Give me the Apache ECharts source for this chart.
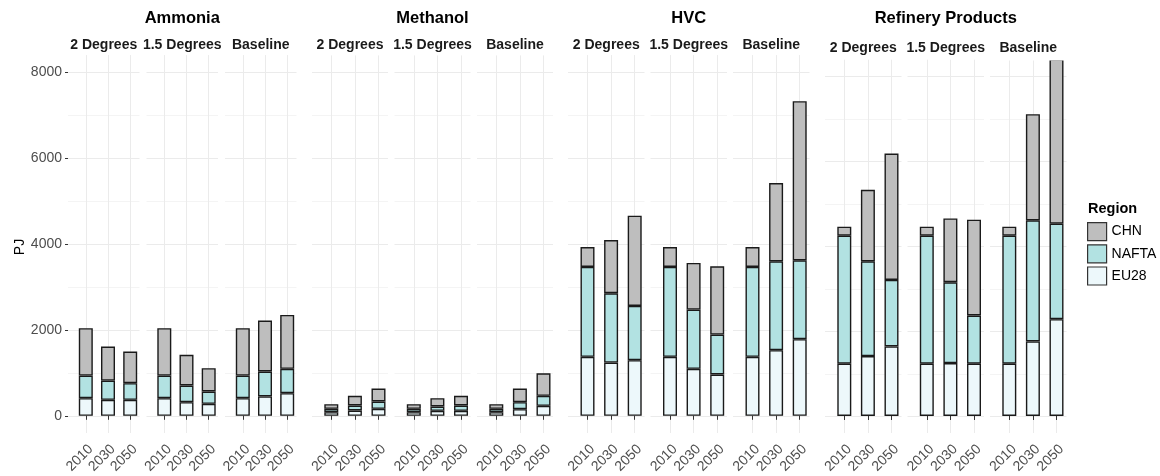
<!DOCTYPE html>
<html>
<head>
<meta charset="utf-8">
<script src="https://cdn.jsdelivr.net/npm/echarts@6/dist/echarts.min.js"></script>
<style>
  html, body { margin: 0; padding: 0; background: #ffffff; }
  #chart { width: 1160px; height: 476px; }
</style>
</head>
<body>
<div id="chart"></div>
<script>
// ---- data (PJ) ----
const products  = ['Ammonia', 'Methanol', 'HVC', 'Refinery Products'];
const scenarios = ['2 Degrees', '1.5 Degrees', 'Baseline'];
const years     = ['2010', '2030', '2050'];
const regions   = ['CHN', 'NAFTA', 'EU28'];
const yTicks    = [0, 2000, 4000, 6000, 8000];

// each array: 2 Degrees (2010, 2030, 2050), 1.5 Degrees (...), Baseline (...)
const ammoniaEU28   = [411, 372, 372,   411, 318, 279,   411, 450, 527];
const ammoniaNAFTA  = [526, 449, 388,   526, 387, 287,   526, 581, 566];
const ammoniaCHN    = [1103, 791, 736,  1103, 714, 543,  1103, 1186, 1256];

const methanolEU28  = [85, 124, 163,    85, 116, 116,    85, 155, 233];
const methanolNAFTA = [78, 116, 170,    78, 101, 124,    78, 163, 232];
const methanolCHN   = [108, 225, 303,   108, 194, 225,   108, 318, 527];

const hvcEU28       = [1372, 1240, 1295,  1372, 1093, 961,   1372, 1528, 1784];
const hvcNAFTA      = [2094, 1614, 1264,  2094, 1380, 930,   2094, 2070, 1837];
const hvcCHN        = [465, 1240, 2101,   465, 1086, 1591,   465, 1822, 3706];

const refineryEU28  = [1233, 1412, 1640,  1233, 1247, 1233,  1233, 1758, 2282];
const refineryNAFTA = [3019, 2235, 1569,  3019, 1906, 1136,  3019, 2854, 2252];
const refineryCHN   = [212, 1687, 2979,   212, 1506, 2259,   212, 2503, 4266];

const productValues = [
  { EU28: ammoniaEU28,  NAFTA: ammoniaNAFTA,  CHN: ammoniaCHN },
  { EU28: methanolEU28, NAFTA: methanolNAFTA, CHN: methanolCHN },
  { EU28: hvcEU28,      NAFTA: hvcNAFTA,      CHN: hvcCHN },
  { EU28: refineryEU28, NAFTA: refineryNAFTA, CHN: refineryCHN }
];

// ---- look ----
const FONT = '"Liberation Sans", Arial, Helvetica, sans-serif';
const regionColors = { CHN: '#bebebe', NAFTA: '#b2e2e2', EU28: '#edf8fb' };
const barBorder = '#1a1a1a';
const stackOrder = ['EU28', 'NAFTA', 'CHN'];      // bottom to top
const yMin = 0, yMax = 8000, yPad = 400;          // plotted range plus padding

// pixel layout of the four sub-plots (three panels each)
const plotLayout = [
  { starts: [68, 146.5, 225],  width: 71.5, barOffset: 17.8, step: 22.2, zeroY: 416.3, topY: 72.3, stripY: 45 },
  { starts: [312, 394.5, 477], width: 76,   barOffset: 19.3, step: 23.6, zeroY: 416.5, topY: 72.6, stripY: 45 },
  { starts: [568, 650.5, 733], width: 76.5, barOffset: 19.5, step: 23.6, zeroY: 416.2, topY: 72.3, stripY: 45 },
  { starts: [825, 907.5, 990], width: 76.5, barOffset: 19.3, step: 23.6, zeroY: 416.7, topY: 76.7, stripY: 48.5 }
];

const grids = [], xAxes = [], yAxes = [], series = [], graphics = [];

products.forEach((product, p) => {
  const L = plotLayout[p];
  const pxPerUnit = (L.zeroY - L.topY) / (yMax - yMin);
  const panelTop = L.topY - yPad * pxPerUnit;
  const panelBottom = L.zeroY + yPad * pxPerUnit;
  const vals = productValues[p];

  // product title centred over its three panels
  const groupLeft = L.starts[0], groupRight = L.starts[2] + L.width;
  graphics.push({
    type: 'text', x: (groupLeft + groupRight) / 2, y: 18.5, silent: true,
    style: { text: product, fill: '#000', font: 'bold 16.5px ' + FONT,
             align: 'center', verticalAlign: 'middle', textAlign: 'center', textVerticalAlign: 'middle' }
  });

  scenarios.forEach((scen, s) => {
    const left = L.starts[s];
    const first = (p === 0 && s === 0);

    // scenario strip label
    graphics.push({
      type: 'text', x: left + L.width / 2, y: L.stripY, silent: true,
      style: { text: scen, fill: '#1a1a1a', font: 'bold 14px ' + FONT,
               align: 'center', verticalAlign: 'middle', textAlign: 'center', textVerticalAlign: 'middle' }
    });

    // background grid carrying the horizontal grid lines (and the y axis on the first panel)
    const gi = grids.length;
    grids.push({ left: left, top: L.topY, width: L.width, height: L.zeroY - L.topY });
    xAxes.push({ gridIndex: gi, type: 'value', show: false, min: 0, max: 1 });
    yAxes.push({
      gridIndex: gi, type: 'value', min: yMin, max: yMax, interval: 2000,
      axisLine: { show: false },
      axisTick: { show: first, length: 3, lineStyle: { color: '#333', width: 1 } },
      axisLabel: { show: first, margin: 6, color: '#4d4d4d', fontSize: 14, fontFamily: FONT,
                   formatter: v => (yTicks.indexOf(v) >= 0 ? String(v) : '') },
      splitLine: { show: true, lineStyle: { color: '#ebebeb', width: 1 } },
      minorTick: { show: false, splitNumber: 2 },
      minorSplitLine: { show: true, lineStyle: { color: '#f4f4f4', width: 1 } }
    });

    // bar grid: category axis, vertical grid lines at the bars
    const bi = grids.length;
    grids.push({ left: left + L.barOffset - L.step / 2, top: panelTop, width: 3 * L.step, height: panelBottom - panelTop });
    xAxes.push({
      gridIndex: bi, type: 'category', data: years, boundaryGap: true,
      axisLine: { show: false },
      axisTick: { show: true, alignWithLabel: true, length: 4, lineStyle: { color: '#333', width: 1 } },
      axisLabel: { interval: 0, rotate: 45, verticalAlign: 'top', margin: 9,
                   color: '#4d4d4d', fontSize: 14, fontFamily: FONT },
      splitLine: { show: true, alignWithLabel: true, interval: 0, lineStyle: { color: '#ebebeb', width: 1 } }
    });
    yAxes.push({ gridIndex: bi, type: 'value', min: yMin - yPad, max: yMax + yPad, show: false });

    stackOrder.forEach(r => {
      series.push({
        type: 'bar', name: r, xAxisIndex: bi, yAxisIndex: bi,
        stack: product + '|' + scen, barWidth: 14,
        data: vals[r].slice(s * 3, s * 3 + 3),
        itemStyle: { color: regionColors[r], borderColor: barBorder, borderWidth: 1.4 },
        emphasis: { disabled: true },
        clip: true
      });
    });

    // a bar running past the top of the panel is cut open, without a top edge
    const tallest = Math.max(...years.map((y, i) => stackOrder.reduce((t, r) => t + vals[r][s * 3 + i], 0)));
    if (tallest > yMax + yPad) {
      graphics.push({
        type: 'rect', silent: true, z: 100,
        shape: { x: left, y: panelTop - 3, width: L.width, height: 3.8 },
        style: { fill: '#ffffff' }
      });
    }
  });
});

// y axis title
graphics.push({
  type: 'text', x: 20, y: 247, rotation: Math.PI / 2, silent: true,
  style: { text: 'PJ', fill: '#000', font: '14px ' + FONT,
           align: 'center', verticalAlign: 'middle', textAlign: 'center', textVerticalAlign: 'middle' }
});

// legend title
graphics.push({
  type: 'text', x: 1088, y: 209, silent: true,
  style: { text: 'Region', fill: '#000', font: 'bold 14.5px ' + FONT,
           align: 'left', verticalAlign: 'middle', textAlign: 'left', textVerticalAlign: 'middle' }
});

const chart = echarts.init(document.getElementById('chart'), null, { renderer: 'canvas' });
chart.setOption({
  animation: false,
  backgroundColor: '#ffffff',
  grid: grids,
  xAxis: xAxes,
  yAxis: yAxes,
  series: series,
  graphic: graphics,
  legend: {
    data: regions, orient: 'vertical', left: 1087, top: 222, padding: 0,
    icon: 'rect', itemWidth: 19, itemHeight: 18, itemGap: 3,
    selectedMode: false,
    itemStyle: { borderColor: '#333', borderWidth: 1.2 },
    textStyle: { fontFamily: FONT, fontSize: 14, color: '#000' }
  },
  tooltip: { show: false }
});
</script>
</body>
</html>
